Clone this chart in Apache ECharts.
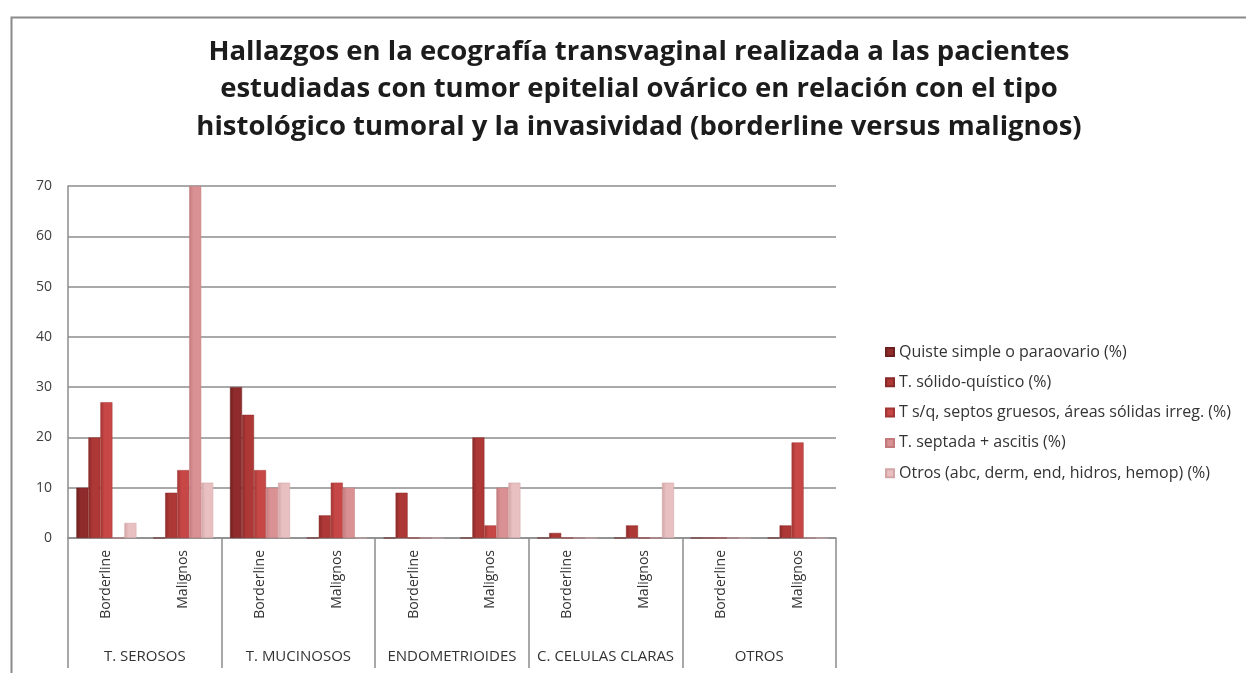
<!DOCTYPE html>
<html>
<head>
<meta charset="utf-8">
<script src="https://cdn.jsdelivr.net/npm/echarts@6/dist/echarts.min.js"></script>
<style>html,body{margin:0;padding:0;background:#fff}#c{width:1246px;height:673px}</style>
</head>
<body>
<div id="c"></div>
<script>
const titleText = 'Hallazgos en la ecografía transvaginal realizada a las pacientes\nestudiadas con tumor epitelial ovárico en relación con el tipo\nhistológico tumoral y la invasividad (borderline versus malignos)';
const groups = ['T. SEROSOS', 'T. MUCINOSOS', 'ENDOMETRIOIDES', 'C. CELULAS CLARAS', 'OTROS'];
const subcats = ['Borderline', 'Malignos', 'Borderline', 'Malignos', 'Borderline', 'Malignos', 'Borderline', 'Malignos', 'Borderline', 'Malignos'];
const seriesNames = ['Quiste simple o paraovario (%)', 'T. sólido-quístico (%)', 'T s/q, septos gruesos, áreas sólidas irreg. (%)', 'T. septada + ascitis (%)', 'Otros (abc, derm, end, hidros, hemop) (%)'];
const quiste   = [10, 0, 30, 0, 0, 0, 0, 0, 0, 0];
const solido   = [20, 9, 24.5, 4.5, 9, 20, 1, 2.5, 0, 2.5];
const sq       = [27, 13.5, 13.5, 11, 0, 2.5, 0, 0, 0, 19];
const septada  = [0, 70, 10, 10, 0, 10, 0, 0, 0, 0];
const otros    = [3, 11, 11, 0, 0, 11, 0, 11, 0, 0];
const yTicks = [0, 10, 20, 30, 40, 50, 60, 70];

const values = [quiste, solido, sq, septada, otros];
const colors = ['#8f2b2b', '#ad3836', '#c74746', '#d99193', '#e9c0c1'];
const darks  = ['#6e1f1f', '#8a2a28', '#a23634', '#c27a7c', '#d3a5a6'];
const FONT = 'Open Sans';

const chart = echarts.init(document.getElementById('c'));
chart.setOption({
  animation: false,
  backgroundColor: '#fff',
  graphic: [{
    type: 'rect', left: 9, top: 15, shape: {width: 1260, height: 700},
    style: {fill: 'none', stroke: '#8a8a8a', lineWidth: 2}, silent: true, z: -1
  }],
  title: {
    text: titleText,
    left: 634, top: 28, textAlign: 'center',
    textStyle: {fontFamily: FONT, fontWeight: 'bold', fontSize: 27.5, lineHeight: 37.5, color: '#1c1c1c'}
  },
  legend: {
    orient: 'vertical', left: 880, top: 339,
    itemWidth: 8, itemHeight: 8, itemGap: 14.3,
    icon: 'rect',
    textStyle: {fontFamily: FONT, fontSize: 16, color: '#333'},
    data: seriesNames
  },
  grid: {left: 68, right: 410, top: 186, bottom: 135},
  xAxis: [{
    type: 'category', data: subcats, position: 'bottom',
    axisLine: {show: true, lineStyle: {color: '#8c8c8c', width: 1.5}},
    axisTick: {show: false},
    axisLabel: {rotate: 90, margin: 12, interval: 0, fontFamily: FONT, fontSize: 14, color: '#333'}
  }, {
    type: 'category', data: groups, position: 'bottom', offset: 130,
    axisLine: {show: false},
    axisTick: {show: true, inside: true, interval: 0, length: 130, lineStyle: {color: '#8c8c8c', width: 1.5}},
    axisLabel: {inside: true, interval: 0, margin: 4, fontFamily: FONT, fontSize: 15, color: '#333'}
  }],
  yAxis: {
    type: 'value', min: 0, max: 70, interval: 10,
    axisLine: {show: true, lineStyle: {color: '#8c8c8c', width: 1.5}},
    axisTick: {show: false},
    axisLabel: {margin: 16, fontFamily: FONT, fontSize: 14, color: '#404040',
      formatter: v => yTicks.includes(v) ? String(v) : ''},
    splitLine: {lineStyle: {color: '#8c8c8c', width: 1.5}}
  },
  series: values.map((d, i) => ({
    name: seriesNames[i], type: 'bar', data: d, xAxisIndex: 0,
    barWidth: 12, barGap: '0%',
    itemStyle: {
      color: new echarts.graphic.LinearGradient(0, 0, 1, 0, [
        {offset: 0, color: darks[i]}, {offset: 0.35, color: colors[i]}, {offset: 1, color: colors[i]}
      ]),
      borderColor: darks[i], borderWidth: 0.5
    }
  }))
});
</script>
</body>
</html>
